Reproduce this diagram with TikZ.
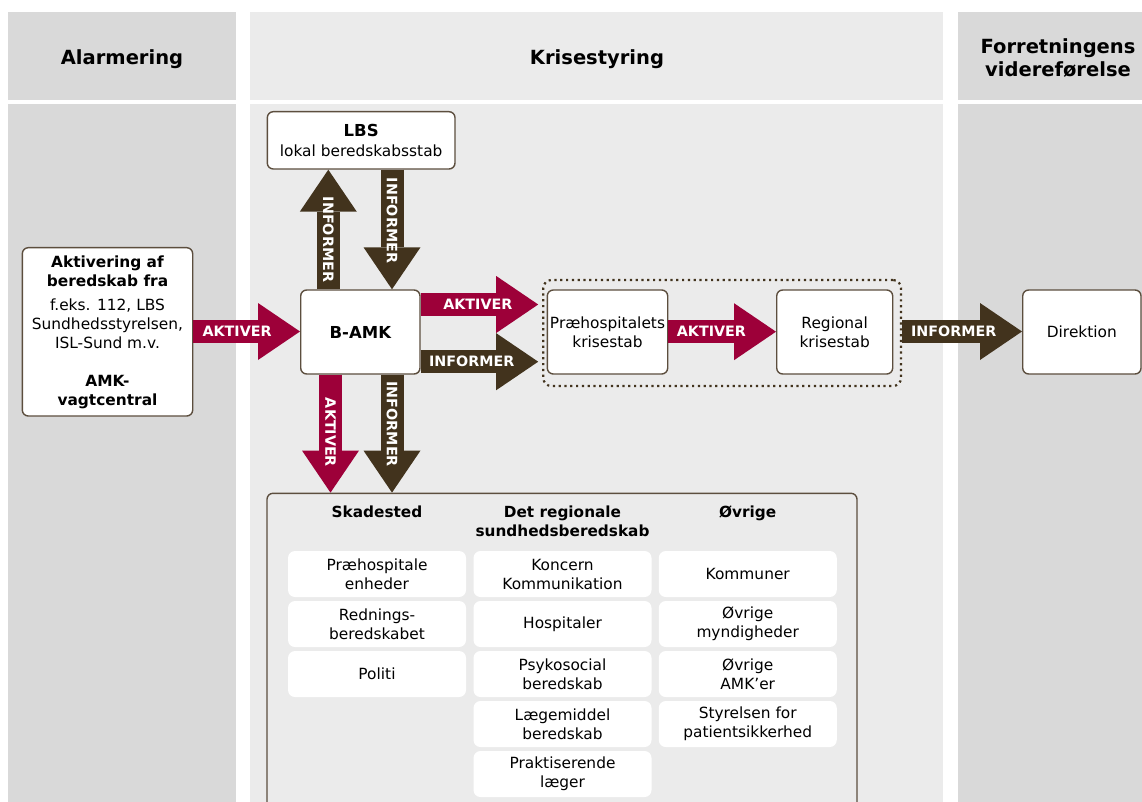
\documentclass[tikz,border=0pt]{standalone}
\usepackage{fontspec}
\setmainfont{DejaVu Sans}
\usetikzlibrary{arrows.meta}
\definecolor{crim}{RGB}{157,0,57}
\definecolor{brn}{RGB}{66,51,29}
\definecolor{bord}{RGB}{92,78,62}
\definecolor{dgray}{RGB}{217,217,217}
\definecolor{lgray}{RGB}{235,235,235}
\newcommand\myhd{\fontsize{19.5}{23}\selectfont\bfseries}
\newcommand\mybody{\fontsize{15.4}{19}\selectfont}
\newcommand\mysub{\fontsize{15.3}{19}\selectfont\bfseries}
\newcommand\mybig{\fontsize{16.5}{20}\selectfont\bfseries}
\newcommand\myarr{\fontsize{14.3}{17}\selectfont\bfseries}
\begin{document}
\begin{tikzpicture}[x=1pt,y=-1pt,
  mybox/.style={draw=bord,line width=1.4pt,fill=white,rounded corners=6pt,inner sep=0pt,align=center,font=\mybody},
  subbox/.style={fill=white,rounded corners=7pt,minimum width=178pt,minimum height=46pt,inner sep=0pt,align=center,font=\mybody},
  fatarrow/.style={line width=23pt,-{Triangle[length=42pt,width=57pt,line width=0pt]}},
  aktarrow/.style={fatarrow,draw=crim},
  infarrow/.style={fatarrow,draw=brn},
  arrlabel/.style={text=white,font=\myarr,inner sep=0pt},
  colhead/.style={font=\myhd,align=center},
  grouphead/.style={font=\mysub,align=center,anchor=north,inner sep=0pt}
]
\useasboundingbox (0,0) rectangle (1142,802);
\fill[white] (0,0) rectangle (1142,802);
% columns
\fill[dgray] (8,11.7) rectangle (235.7,100);
\fill[dgray] (8,104) rectangle (235.7,802);
\fill[lgray] (250,11.7) rectangle (943.3,100);
\fill[lgray] (250,104) rectangle (943.3,802);
\fill[dgray] (958.3,11.7) rectangle (1142,100);
\fill[dgray] (958.3,104) rectangle (1142,802);
% column headers
\node[colhead,anchor=base] (h1) at (122,64.3) {Alarmering};
\node[colhead,anchor=base] (h2) at (597,64.3) {Krisestyring};
\node[colhead] (h3) at (1058,57.8) {Forretningens\\videreførelse};
% boxes
\node[mybox,minimum width=170.4pt,minimum height=168.3pt] (alarm) at (107.5,331.85)
  {\textbf{Aktivering af}\\\textbf{beredskab fra}\\[5pt]f.eks. 112, LBS\\Sundhedsstyrelsen,\\ISL-Sund m.v.\\[19pt]\textbf{AMK-}\\\textbf{vagtcentral}};
\node[mybox,minimum width=187.7pt,minimum height=57.3pt] (lbs) at (361.15,140.35)
  {{\mybig LBS}\\[1.5pt]lokal beredskabsstab};
\node[mybox,minimum width=119.3pt,minimum height=84pt,font=\mybig] (bamk) at (360.35,332) {B-AMK};
\node[draw=brn,line width=2.2pt,dash pattern=on 2.2pt off 3.6pt,rounded corners=8pt,
  minimum width=357.7pt,minimum height=106pt,inner sep=0pt] (dot) at (722.15,333) {};
\node[mybox,minimum width=120.4pt,minimum height=84pt] (preh) at (607.5,332) {Præhospitalets\\krisestab};
\node[mybox,minimum width=116pt,minimum height=84pt] (reg) at (834.7,332) {Regional\\krisestab};
\node[mybox,minimum width=118.3pt,minimum height=84pt] (dir) at (1081.85,332) {Direktion};
% bottom box
\node[draw=bord,line width=1.4pt,rounded corners=6pt,minimum width=590pt,minimum height=320pt,inner sep=0pt] (bot) at (562,653.3) {};
\node[grouphead] (g1) at (377,505.7) {Skadested};
\node[grouphead] (g2) at (562.5,505.7) {Det regionale\\sundhedsberedskab};
\node[grouphead] (g3) at (747.75,505.7) {Øvrige};
% sub boxes
\node[subbox] (s11) at (377,574) {Præhospitale\\enheder};
\node[subbox] (s12) at (377,624) {Rednings-\\beredskabet};
\node[subbox] (s13) at (377,674) {Politi};
\node[subbox] (s21) at (562.5,574) {Koncern\\Kommunikation};
\node[subbox] (s22) at (562.5,624) {Hospitaler};
\node[subbox] (s23) at (562.5,674) {Psykosocial\\beredskab};
\node[subbox] (s24) at (562.5,724) {Lægemiddel\\beredskab};
\node[subbox] (s25) at (562.5,774) {Praktiserende\\læger};
\node[subbox] (s31) at (747.75,574) {Kommuner};
\node[subbox] (s32) at (747.75,624) {Øvrige\\myndigheder};
\node[subbox] (s33) at (747.75,674) {Øvrige\\AMK’er};
\node[subbox] (s34) at (747.75,724) {Styrelsen for\\patientsikkerhed};
% arrows
\draw[aktarrow] (alarm.east |- 0,331.5) -- node[arrlabel,pos=0.41]{AKTIVER} (bamk.west |- 0,331.5);
\draw[infarrow] (bamk.north -| 328.3,0) -- node[arrlabel,rotate=-90,pos=0.416]{INFORMER} (lbs.south -| 328.3,0);
\draw[infarrow] (lbs.south -| 392,0) -- node[arrlabel,rotate=-90,pos=0.424]{INFORMER} (bamk.north -| 392,0);
\draw[aktarrow,shorten >=4pt] (bamk.east |- 0,304.5) -- node[arrlabel,pos=0.47]{AKTIVER} (dot.west |- 0,304.5);
\draw[infarrow,shorten >=4pt] (bamk.east |- 0,361.7) -- node[arrlabel,pos=0.42]{INFORMER} (dot.west |- 0,361.7);
\draw[aktarrow] (preh.east |- 0,331.7) -- node[arrlabel,pos=0.4]{AKTIVER} (reg.west |- 0,331.7);
\draw[infarrow] (dot.east |- 0,331.5) -- node[arrlabel,pos=0.43]{INFORMER} (dir.west |- 0,331.5);
\draw[aktarrow] (bamk.south -| 330.5,0) -- node[arrlabel,rotate=-90,pos=0.49]{AKTIVER} (bot.north -| 330.5,0);
\draw[infarrow] (bamk.south -| 392,0) -- node[arrlabel,rotate=-90,pos=0.42]{INFORMER} (bot.north -| 392,0);
\end{tikzpicture}
\end{document}
